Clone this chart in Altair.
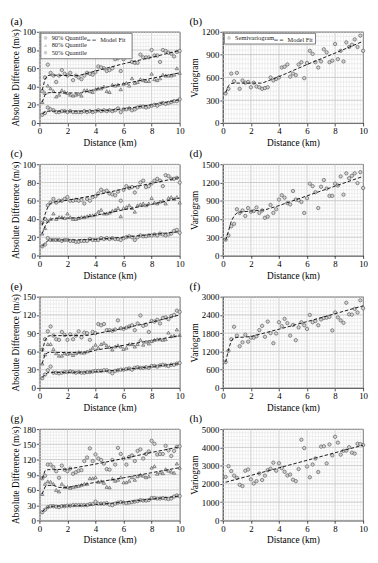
import altair as alt
import pandas as pd

FONT = "Liberation Serif"

DIST = [0.2, 0.4, 0.6, 0.8, 1.0, 1.2, 1.4, 1.6, 1.8, 2.0, 2.2, 2.4, 2.6, 2.8, 3.0, 3.2, 3.4, 3.6, 3.8, 4.0,
        4.2, 4.4, 4.6, 4.8, 5.0, 5.2, 5.4, 5.6, 5.8, 6.0, 6.2, 6.4, 6.6, 6.8, 7.0, 7.2, 7.4, 7.6, 7.8, 8.0,
        8.2, 8.4, 8.6, 8.8, 9.0, 9.2, 9.4, 9.6, 9.8, 10.0]
QUANTILES = ["90% Quantile", "80% Quantile", "50% Quantile"]

# ---------------- panel (a) ----------------
A_Q90 = [35, 50, 64, 55, 52, 45, 52, 58, 54, 52, 55, 47, 52, 50, 48, 52, 55, 54, 53, 56,
         62, 61, 60, 57, 58, 60, 70, 71, 57, 70, 73, 75, 67, 66, 66, 75, 72, 72, 72, 80,
         74, 74, 67, 80, 79, 77, 76, 73, 78, 79]
A_Q80 = [23, 33, 41, 38, 35, 29, 31, 36, 34, 33, 31, 30, 31, 32, 30, 36, 36, 35, 34, 37,
         38, 38, 40, 35, 34, 42, 41, 42, 37, 43, 44, 41, 49, 44, 45, 48, 47, 46, 46, 54,
         48, 47, 49, 53, 52, 52, 52, 53, 60, 55]
A_Q50 = [9, 11, 17, 15, 14, 12, 12, 13, 13, 12, 13, 12, 12, 12, 12, 13, 12, 13, 12, 13,
         14, 13, 14, 13, 14, 13, 14, 16, 12, 15, 15, 16, 14, 15, 17, 18, 18, 17, 18, 19,
         20, 19, 21, 22, 21, 22, 23, 24, 24, 26]
A_FIT90_X = [0.2, 0.4, 0.6, 0.8, 1.0, 2.0, 2.8, 4.0, 6.0, 8.0, 10.0]
A_FIT90_Y = [36, 48, 52, 52.5, 52.5, 52, 52, 57, 65, 72, 79.5]
A_FIT80_X = [0.2, 0.4, 0.6, 0.8, 1.0, 2.0, 3.0, 4.0, 6.0, 8.0, 10.0]
A_FIT80_Y = [23, 31, 33, 33.5, 33.5, 33, 33, 37, 43, 49, 55]
A_FIT50_X = [0.2, 0.4, 0.6, 1.0, 3.0, 5.0, 6.0, 8.0, 10.0]
A_FIT50_Y = [10, 12, 13, 13, 13, 14, 15.5, 20, 25.5]

# ---------------- panel (b) ----------------
B_VAR = [390, 450, 650, 550, 660, 450, 560, 530, 540, 470, 530, 480, 470, 450, 460, 470, 600, 560, 580, 600,
         730, 740, 770, 610, 650, 630, 770, 800, 590, 790, 950, 910, 800, 730, 810, 970, 930, 800, 820, 1040,
         840, 950, 810, 1060, 1000, 1030, 1100, 1000, 1150, 950]
B_FIT_X = [0.2, 0.4, 0.6, 0.8, 1.0, 2.0, 2.8, 4.0, 6.0, 8.0, 10.0]
B_FIT_Y = [400, 490, 520, 525, 525, 525, 525, 610, 770, 920, 1075]

# ---------------- panel (c) ----------------
C_Q90 = [36, 40, 55, 58, 62, 58, 60, 60, 62, 64, 60, 60, 61, 60, 61, 57, 62, 60, 64, 65,
         68, 72, 70, 71, 68, 67, 66, 70, 60, 72, 76, 74, 75, 69, 75, 80, 82, 75, 76, 79,
         82, 84, 82, 76, 88, 87, 84, 84, 85, 80]
C_Q80 = [24, 30, 38, 40, 46, 40, 42, 42, 41, 46, 42, 40, 40, 41, 42, 42, 43, 44, 44, 45,
         48, 50, 46, 46, 47, 49, 50, 52, 43, 52, 53, 55, 52, 48, 55, 56, 57, 55, 57, 63,
         58, 57, 59, 60, 57, 63, 64, 62, 64, 58]
C_Q50 = [10, 12, 19, 17, 17, 17, 17, 16, 17, 17, 16, 16, 15, 15, 16, 16, 16, 18, 17, 17,
         17, 19, 18, 19, 18, 19, 18, 18, 17, 19, 20, 21, 20, 17, 20, 22, 21, 21, 22, 22,
         23, 22, 24, 23, 22, 23, 24, 27, 28, 25]
C_FIT90_X = [0.2, 0.4, 0.6, 0.8, 1.0, 1.4, 2.0, 4.0, 6.0, 8.0, 10.0]
C_FIT90_Y = [33, 45, 53, 57, 58.5, 59.5, 60.5, 66, 73, 79, 85.5]
C_FIT80_X = [0.2, 0.4, 0.6, 0.8, 1.0, 1.4, 2.0, 3.0, 4.0, 6.0, 8.0, 10.0]
C_FIT80_Y = [24, 32, 37, 39.5, 40.5, 41, 41, 41.5, 44, 50, 56, 63]
C_FIT50_X = [0.2, 0.4, 0.6, 0.8, 1.0, 2.0, 4.0, 6.0, 8.0, 10.0]
C_FIT50_Y = [10, 13.5, 16, 17, 17, 17, 17.5, 20, 23, 26]

# ---------------- panel (d) ----------------
D_VAR = [260, 330, 480, 520, 760, 700, 740, 650, 780, 720, 730, 790, 700, 740, 620, 640, 830, 700, 760, 920,
         990, 950, 860, 840, 1060, 920, 910, 880, 700, 940, 1180, 1140, 1040, 780, 1130, 1240, 1100, 980, 980, 1180,
         1150, 1300, 1000, 1350, 1270, 1310, 1350, 1190, 1370, 1110]
D_FIT_X = [0.2, 0.4, 0.6, 0.8, 1.0, 1.4, 2.0, 3.0, 4.0, 6.0, 8.0, 10.0]
D_FIT_Y = [250, 400, 560, 650, 700, 720, 730, 750, 820, 980, 1140, 1300]

# ---------------- panel (e) ----------------
E_Q90 = [63, 80, 93, 101, 86, 80, 79, 92, 87, 79, 88, 80, 86, 93, 83, 91, 90, 79, 92, 90,
         105, 103, 105, 95, 95, 94, 96, 111, 98, 97, 99, 101, 103, 95, 106, 119, 102, 104, 92, 110,
         109, 112, 106, 115, 116, 113, 118, 120, 127, 125]
E_Q80 = [40, 55, 72, 72, 64, 57, 53, 53, 57, 56, 57, 54, 57, 59, 58, 58, 60, 62, 66, 71,
         66, 72, 74, 70, 67, 63, 68, 70, 68, 64, 66, 72, 72, 68, 72, 79, 71, 76, 73, 77,
         79, 80, 80, 79, 80, 91, 85, 86, 96, 87]
E_Q50 = [16, 22, 29, 35, 25, 25, 24, 25, 26, 26, 27, 26, 25, 26, 25, 25, 26, 26, 27, 28,
         28, 28, 29, 29, 27, 24, 28, 29, 30, 30, 31, 32, 30, 33, 34, 33, 33, 34, 33, 36,
         36, 35, 37, 38, 37, 36, 38, 38, 40, 41]
E_FIT90_X = [0.2, 0.4, 0.6, 0.8, 1.0, 2.0, 3.5, 4.0, 6.0, 8.0, 10.0]
E_FIT90_Y = [60, 78, 85, 86, 86, 86, 86.5, 89, 98, 108, 120]
E_FIT80_X = [0.2, 0.4, 0.6, 0.8, 1.0, 2.0, 3.5, 4.0, 6.0, 8.0, 10.0]
E_FIT80_Y = [40, 55, 58, 58.5, 58.5, 58, 59, 62, 70, 78, 86]
E_FIT50_X = [0.2, 0.4, 0.6, 0.8, 1.0, 2.0, 4.0, 6.0, 8.0, 10.0]
E_FIT50_Y = [17, 22, 25, 25.5, 25.5, 25.5, 26.5, 30, 35, 40]

# ---------------- panel (f) ----------------
F_VAR = [850, 1220, 1600, 2010, 1720, 1370, 1500, 1750, 1520, 1650, 1650, 1700, 1900, 2040, 1680, 2180, 1800, 1470, 1790, 2160,
         2030, 2270, 2130, 1720, 2070, 1570, 1990, 2160, 2060, 1940, 2400, 2160, 2200, 2060, 2250, 2300, 2310, 2340, 1890, 2480,
         2320, 2220, 2140, 2800, 2420, 2410, 2600, 2480, 2880, 2620]
F_FIT_X = [0.2, 0.4, 0.6, 0.8, 1.0, 1.5, 2.0, 4.0, 6.0, 8.0, 10.0]
F_FIT_Y = [850, 1250, 1550, 1640, 1660, 1670, 1690, 1930, 2180, 2440, 2700]

# ---------------- panel (g) ----------------
G_Q90 = [83, 88, 110, 110, 105, 97, 84, 108, 100, 97, 102, 92, 95, 98, 99, 117, 124, 142, 117, 130,
         122, 119, 112, 101, 100, 119, 110, 143, 131, 122, 110, 125, 128, 117, 137, 140, 122, 131, 136, 157,
         151, 130, 131, 131, 147, 138, 127, 137, 145, 146]
G_Q80 = [52, 72, 77, 76, 72, 60, 57, 72, 66, 66, 64, 66, 67, 68, 70, 72, 72, 83, 83, 85,
         76, 77, 74, 66, 65, 82, 78, 80, 85, 75, 75, 78, 85, 80, 87, 90, 88, 85, 87, 104,
         107, 92, 95, 93, 101, 98, 96, 94, 112, 104]
G_Q50 = [16, 21, 26, 28, 28, 27, 26, 28, 28, 29, 29, 30, 30, 30, 30, 30, 30, 32, 32, 37,
         33, 33, 33, 34, 31, 30, 33, 35, 36, 35, 34, 35, 36, 37, 38, 40, 39, 39, 40, 44,
         44, 43, 43, 44, 43, 42, 43, 47, 49, 48]
G_FIT90_X = [0.2, 0.4, 0.6, 1.0, 2.0, 4.0, 6.0, 8.0, 10.0]
G_FIT90_Y = [82, 98, 100, 100, 101, 111, 122, 134, 145]
G_FIT80_X = [0.2, 0.4, 0.6, 1.0, 1.4, 2.0, 4.0, 6.0, 8.0, 10.0]
G_FIT80_Y = [52, 66, 69, 69, 65, 65, 75, 84, 94, 104]
G_FIT50_X = [0.2, 0.4, 0.6, 1.0, 2.0, 3.0, 4.0, 6.0, 8.0, 10.0]
G_FIT50_Y = [17, 22, 26, 28, 28.5, 29, 31, 36, 42, 48]

# ---------------- panel (h) ----------------
H_VAR = [2380, 2970, 2700, 2450, 2330, 1950, 1880, 2720, 2790, 2250, 2020, 2150, 2570, 2210, 2450, 2750, 2830, 3160, 2720, 3130,
         2860, 2660, 2460, 2510, 2230, 2150, 2810, 4420, 3960, 2950, 2360, 3060, 3390, 2650, 4040, 4060, 3120, 4160, 3560, 4580,
         4260, 3600, 3810, 3820, 4010, 3710, 3660, 4200, 4180, 4130]
H_FIT_X = [0.2, 10.0]
H_FIT_Y = [2090, 4120]

W, H = 143, 93
PT_FILL, PT_STROKE = "#d0d0d0", "#4d4d4d"
MINOR_C, MAJOR_C = "#e4e4e4", "#b8b8b8"


def grid_vals(step, vmax):
    return [round(i * step, 6) for i in range(int(round(vmax / step)) + 1)]


def x_enc(field="dist"):
    return alt.X(f"{field}:Q", scale=alt.Scale(domain=[0, 10], nice=False),
                 axis=alt.Axis(values=grid_vals(2, 10), format="d", grid=False, labelFlush=False,
                               tickSize=3, tickWidth=0.7, title="Distance (km)"))


def y_enc(field, step, vmax, title):
    return alt.Y(f"{field}:Q", scale=alt.Scale(domain=[0, vmax], nice=False),
                 axis=alt.Axis(values=grid_vals(step, vmax), format="d", grid=False,
                               labelFlush=False, tickSize=3, tickWidth=0.7, title=title))


def grid_layers(step, vmax, ytitle):
    layers = []
    for xs, col in [(grid_vals(0.2, 10), MINOR_C), (grid_vals(2, 10), MAJOR_C)]:
        layers.append(alt.Chart(pd.DataFrame({"gx": xs})).mark_rule(color=col, strokeWidth=0.6)
                      .encode(x=x_enc("gx")))
    for ys, col in [(grid_vals(step / 5, vmax), MINOR_C), (grid_vals(step, vmax), MAJOR_C)]:
        layers.append(alt.Chart(pd.DataFrame({"gy": ys})).mark_rule(color=col, strokeWidth=0.6)
                      .encode(y=y_enc("gy", step, vmax, ytitle)))
    return layers


def shape_legend(extra):
    # a blank right-hand title with padding widens the framed box so it also holds "Model Fit"
    return alt.Legend(
        orient="none", legendX=1, legendY=1, direction="vertical",
        title="\u00a0", titleOrient="right", titleFont=FONT, titleFontSize=6.5,
        titlePadding=extra,
        labelFont=FONT, labelFontSize=6.5, labelColor="#222",
        symbolSize=14, symbolStrokeWidth=0.6, symbolStrokeColor="#333", symbolFillColor="white",
        rowPadding=0.5, padding=2, strokeColor="#777", fillColor="white", labelOffset=3,
    )


def fit_legend(x):
    return alt.Legend(
        orient="none", legendX=x, legendY=1, title=None,
        labelFont=FONT, labelFontSize=6.5, labelColor="#222",
        symbolType="stroke", symbolSize=100, symbolStrokeWidth=0.9, symbolStrokeColor="#333",
        symbolDash=[2.5, 1.5], padding=2, labelOffset=3,
    )


def fit_frame(xs_list, ys_list, names):
    rows = []
    for xs, ys, nm in zip(xs_list, ys_list, names):
        for xv, yv in zip(xs, ys):
            rows.append({"dist": xv, "val": yv, "series": nm, "lbl": "Model Fit"})
    return pd.DataFrame(rows)


def panel_title(label):
    return alt.Title(label, anchor="start", frame="bounds", font=FONT, fontSize=11,
                     fontWeight="normal", color="black", offset=1)


def quantile_panel(label, q90, q80, q50, fits_x, fits_y, step, vmax, legend):
    ytitle = "Absolute Difference (m/s)"
    rows = []
    for nm, vals in zip(QUANTILES, [q90, q80, q50]):
        for d, v in zip(DIST, vals):
            rows.append({"dist": d, "val": v, "series": nm})
    pdf = pd.DataFrame(rows)
    fdf = fit_frame(fits_x, fits_y, QUANTILES)
    pts = alt.Chart(pdf).mark_point(size=12, filled=True, fill=PT_FILL, stroke=PT_STROKE,
                                    strokeWidth=0.6, opacity=1).encode(
        x=x_enc(), y=y_enc("val", step, vmax, ytitle),
        shape=alt.Shape("series:N", scale=alt.Scale(domain=QUANTILES,
                                                    range=["circle", "triangle-up", "circle"]),
                        legend=shape_legend(44) if legend else None),
    )
    line = alt.Chart(fdf).mark_line(color="#1a1a1a", strokeWidth=1.0).encode(
        x=x_enc(), y=y_enc("val", step, vmax, ytitle), detail="series:N",
        strokeDash=alt.StrokeDash("lbl:N", scale=alt.Scale(domain=["Model Fit"], range=[[3.5, 2]]),
                                  legend=fit_legend(46) if legend else None),
    )
    return alt.layer(*grid_layers(step, vmax, ytitle), pts, line).properties(
        width=W, height=H, title=panel_title(label))


def vario_panel(label, var, fx, fy, step, vmax, legend):
    ytitle = "Variogram"
    pdf = pd.DataFrame({"dist": DIST, "val": var, "series": "Semivariogram"})
    fdf = fit_frame([fx], [fy], ["fit"])
    pts = alt.Chart(pdf).mark_point(size=12, filled=True, fill=PT_FILL, stroke=PT_STROKE,
                                    strokeWidth=0.6, opacity=1).encode(
        x=x_enc(), y=y_enc("val", step, vmax, ytitle),
        shape=alt.Shape("series:N", scale=alt.Scale(domain=["Semivariogram"], range=["circle"]),
                        legend=shape_legend(39) if legend else None),
    )
    line = alt.Chart(fdf).mark_line(color="#1a1a1a", strokeWidth=1.0).encode(
        x=x_enc(), y=y_enc("val", step, vmax, ytitle),
        strokeDash=alt.StrokeDash("lbl:N", scale=alt.Scale(domain=["Model Fit"], range=[[3.5, 2]]),
                                  legend=fit_legend(50) if legend else None),
    )
    return alt.layer(*grid_layers(step, vmax, ytitle), pts, line).properties(
        width=W, height=H, title=panel_title(label))


pa = quantile_panel("(a)", A_Q90, A_Q80, A_Q50, [A_FIT90_X, A_FIT80_X, A_FIT50_X],
                    [A_FIT90_Y, A_FIT80_Y, A_FIT50_Y], 20, 100, True)
pb = vario_panel("(b)", B_VAR, B_FIT_X, B_FIT_Y, 300, 1200, True)
pc = quantile_panel("(c)", C_Q90, C_Q80, C_Q50, [C_FIT90_X, C_FIT80_X, C_FIT50_X],
                    [C_FIT90_Y, C_FIT80_Y, C_FIT50_Y], 20, 100, False)
pd_ = vario_panel("(d)", D_VAR, D_FIT_X, D_FIT_Y, 300, 1500, False)
pe = quantile_panel("(e)", E_Q90, E_Q80, E_Q50, [E_FIT90_X, E_FIT80_X, E_FIT50_X],
                    [E_FIT90_Y, E_FIT80_Y, E_FIT50_Y], 30, 150, False)
pf = vario_panel("(f)", F_VAR, F_FIT_X, F_FIT_Y, 600, 3000, False)
pg = quantile_panel("(g)", G_Q90, G_Q80, G_Q50, [G_FIT90_X, G_FIT80_X, G_FIT50_X],
                    [G_FIT90_Y, G_FIT80_Y, G_FIT50_Y], 30, 180, False)
ph = vario_panel("(h)", H_VAR, H_FIT_X, H_FIT_Y, 1000, 5000, False)

chart = alt.ConcatChart(
    concat=[pa, pb, pc, pd_, pe, pf, pg, ph], columns=2,
    spacing={"row": 42, "column": 44}, bounds="flush",
).resolve_scale(
    x="independent", y="independent", shape="independent", strokeDash="independent"
).resolve_legend(
    shape="independent", strokeDash="independent"
).properties(padding={"left": 2, "top": 2, "right": 2, "bottom": 2}).configure_view(
    stroke="black", strokeWidth=0.8
).configure_axis(
    labelFont=FONT, titleFont=FONT, labelFontSize=9, titleFontSize=9.5, titleFontWeight="normal",
    labelColor="black", titleColor="black", domainColor="black", tickColor="black",
    labelPadding=1, titlePadding=2, domainWidth=0.8,
)

chart.save("out.html", embed_options={"renderer": "svg", "actions": False})
